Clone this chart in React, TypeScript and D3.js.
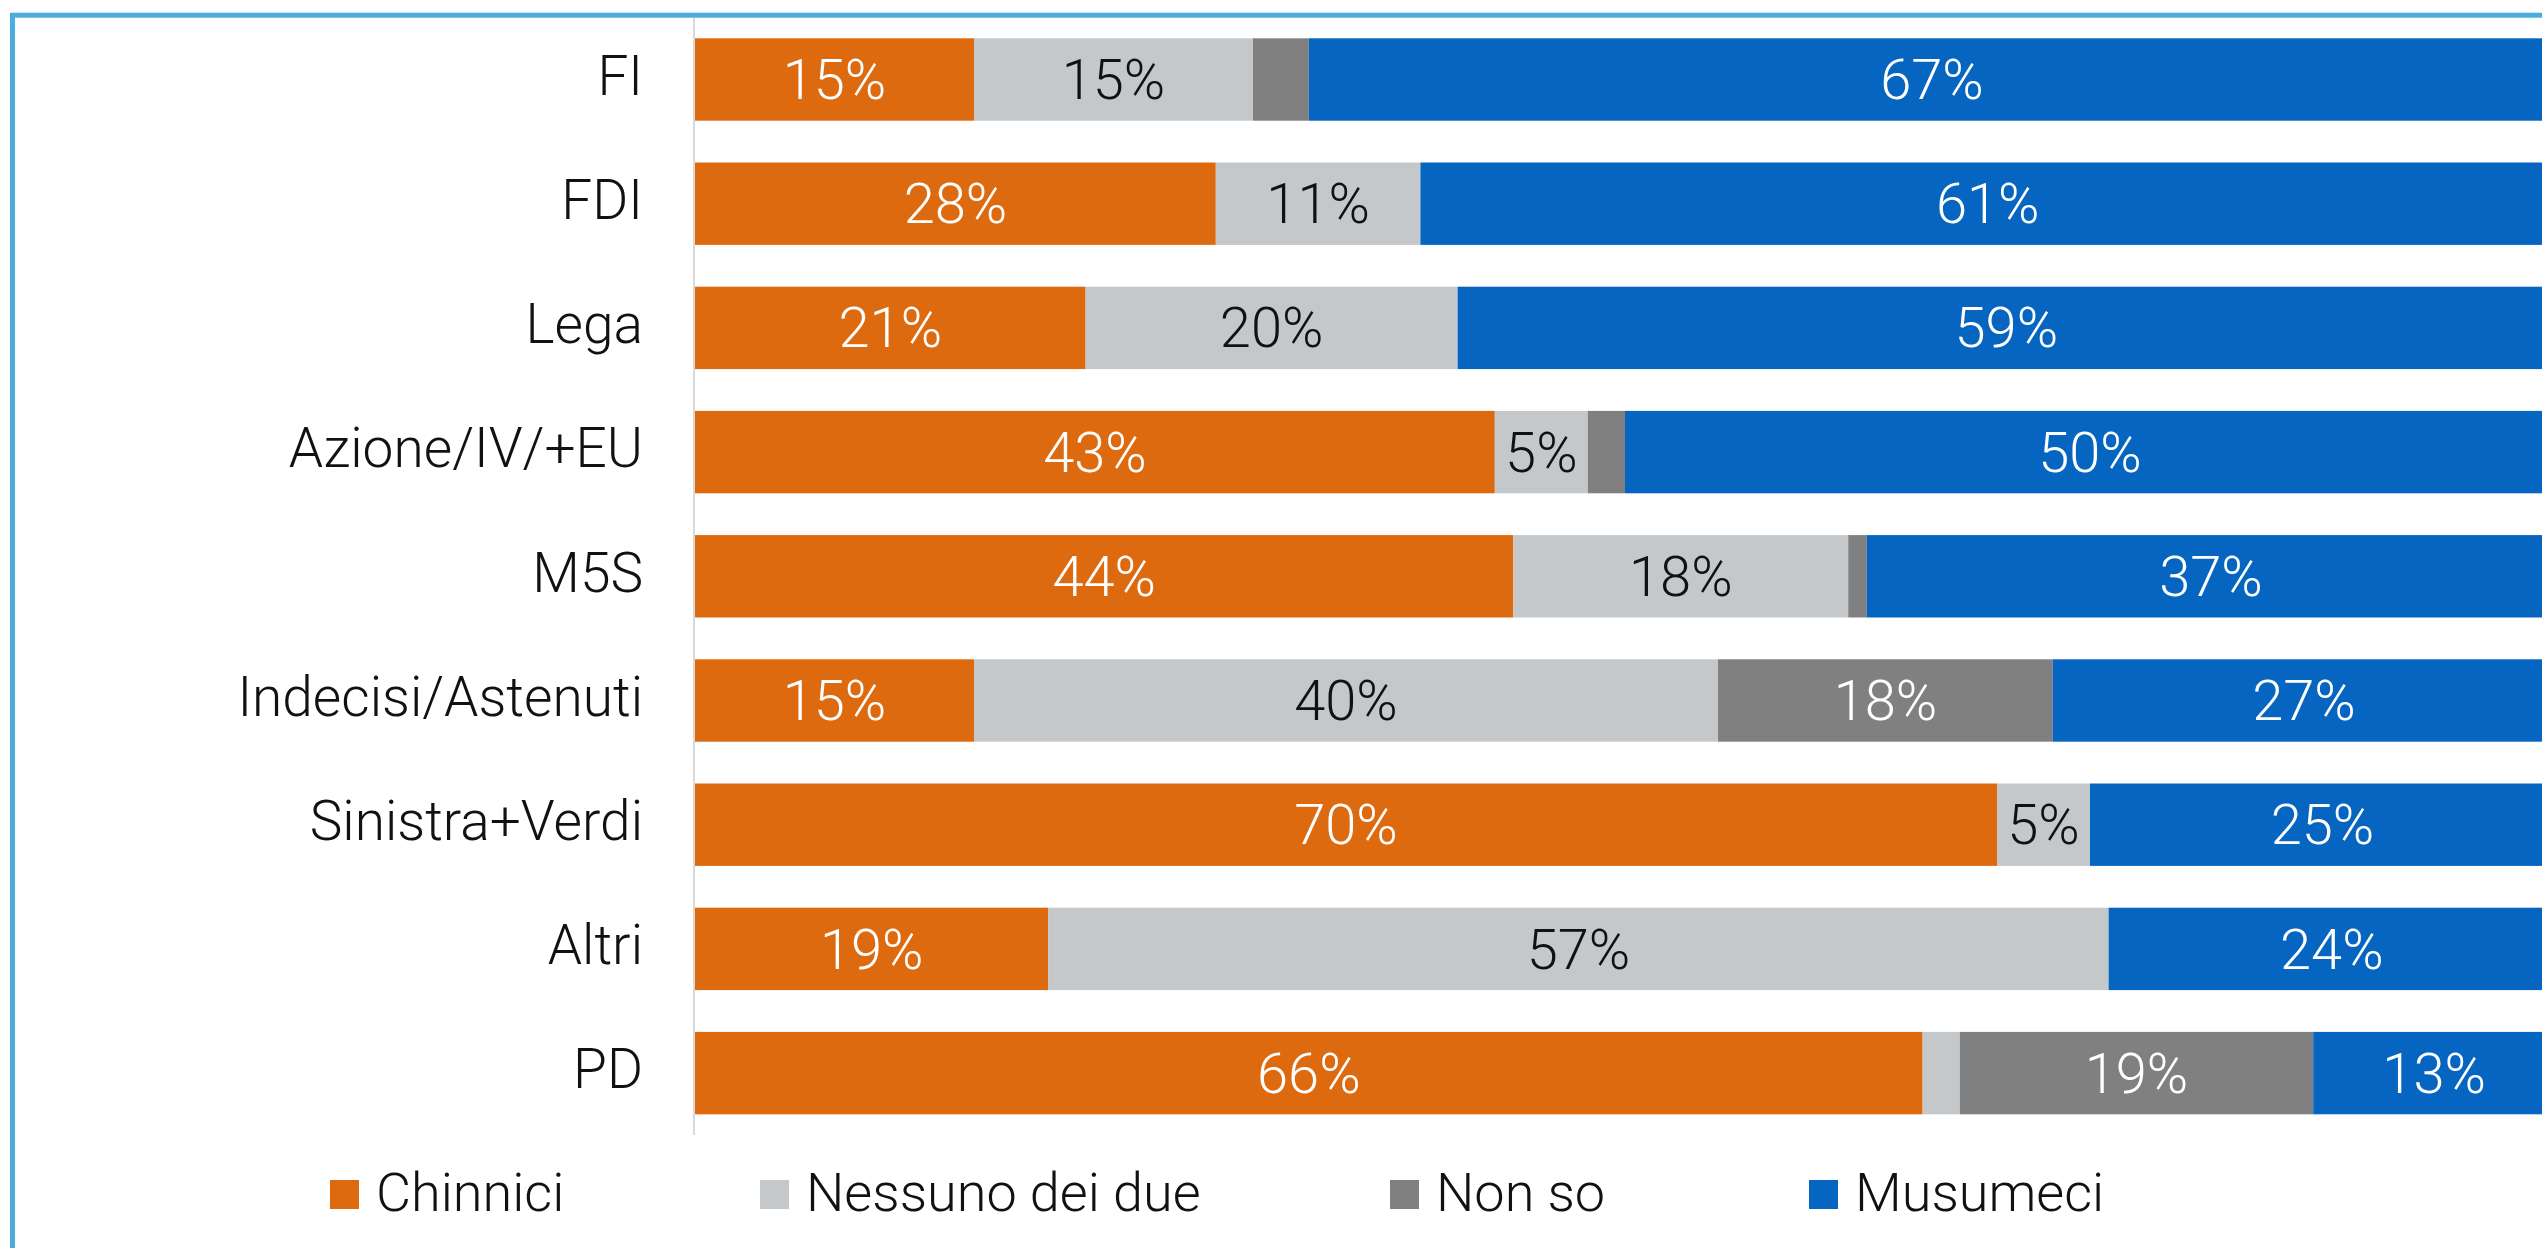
import React from "react";
import * as d3 from "d3";

const categories = ["FI", "FDI", "Lega", "Azione/IV/+EU", "M5S", "Indecisi/Astenuti", "Sinistra+Verdi", "Altri", "PD"];
const seriesNames = ["Chinnici", "Nessuno dei due", "Non so", "Musumeci"];
const chinnici = [15, 28, 21, 43, 44, 15, 70, 19, 66];
const nessuno = [15, 11, 20, 5, 18, 40, 5, 57, 2];
const nonSo = [3, 0, 0, 2, 1, 18, 0, 0, 19];
const musumeci = [67, 61, 59, 50, 37, 27, 25, 24, 13];
const seriesColors = ["#DE6A10", "#C5C8CB", "#808080", "#0565C0"];
const labelColors = ["#ffffff", "#111111", "#ffffff", "#ffffff"];

const W = 2542;
const H = 1248;
const FONT = "Roboto, 'Noto Sans', sans-serif";

export default function App() {
  const values = [chinnici, nessuno, nonSo, musumeci];
  const rows = categories.map((c, i) => {
    const r: any = { cat: c };
    seriesNames.forEach((s, j) => (r[s] = values[j][i]));
    return r;
  });
  const stacked = d3.stack().keys(seriesNames)(rows);

  const x = d3.scaleLinear().domain([0, 100]).range([695, 2555]);
  const y = d3
    .scaleBand<string>()
    .domain(categories)
    .range([38.3, 1114.3])
    .paddingInner(0.3366)
    .paddingOuter(0);
  const bw = y.bandwidth();

  const legendX = [330, 760, 1390, 1809];

  return (
    <div style={{ position: "absolute", left: 0, top: 0 }}>
      <svg width={W} height={H} style={{ display: "block", background: "#fff" }}>
        <rect x={0} y={0} width={W} height={H} fill="#fff" />
        <rect x={12.5} y={15.2} width={W + 100} height={H + 100} fill="none" stroke="#4AADDE" strokeWidth={5} />
        <line x1={694} x2={694} y1={18} y2={1135} stroke="#D9D9D9" strokeWidth={2} />
        {stacked.map((layer, j) => (
          <g key={seriesNames[j]}>
            {layer.map((d, i) => {
              const x0 = x(d[0]);
              const x1 = x(d[1]);
              const v = values[j][i];
              const yy = y(categories[i])!;
              return (
                <g key={i}>
                  {v > 0 && (
                    <rect x={x0} y={yy} width={x1 - x0} height={bw} fill={seriesColors[j]} />
                  )}
                  {v >= 5 && (
                    <text
                      x={(x0 + Math.min(x1, W + 13)) / 2}
                      y={yy + bw / 2}
                      dy="0.35em"
                      textAnchor="middle"
                      fontFamily={FONT}
                      fontWeight={300}
                      fontSize={56}
                      fill={labelColors[j]}
                    >
                      {v}%
                    </text>
                  )}
                </g>
              );
            })}
          </g>
        ))}
        {categories.map((c) => (
          <text
            key={c}
            x={643}
            y={y(c)! + bw / 2 - 4}
            dy="0.35em"
            textAnchor="end"
            fontFamily={FONT}
            fontWeight={300}
            fontSize={55}
            fill="#111"
          >
            {c}
          </text>
        ))}
        {seriesNames.map((s, j) => (
          <g key={s}>
            <rect x={legendX[j]} y={1180} width={29} height={29} fill={seriesColors[j]} />
            <text x={legendX[j] + 46} y={1211} fontFamily={FONT} fontWeight={300} fontSize={54} fill="#111">
              {s}
            </text>
          </g>
        ))}
      </svg>
    </div>
  );
}
